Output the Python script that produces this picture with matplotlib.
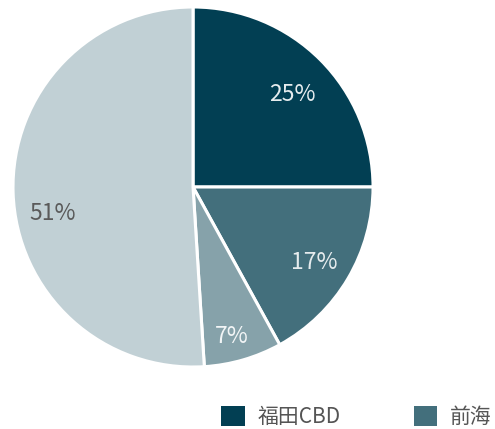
import matplotlib
matplotlib.use("Agg")
import matplotlib.pyplot as plt
from matplotlib.patches import Patch

plt.rcParams['font.family'] = ['Noto Sans CJK SC', 'DejaVu Sans']

labels = ['福田CBD', '前海', '后海', '其他']
values = [25, 17, 7, 51]
colors = ['#023f53', '#436f7c', '#86a2aa', '#c1d0d5']
text_colors = ['#e6ecee', '#e6ecee', '#f2f5f6', '#5a5a5a']

fig = plt.figure(figsize=(4.95, 4.29), dpi=100)
ax = fig.add_axes([0.0263, 0.1445, 0.7273, 0.8392])

wedges, texts, autotexts = ax.pie(values, colors=colors, startangle=90, counterclock=False,
                                  autopct='%d%%', pctdistance=0.78,
                                  wedgeprops=dict(edgecolor='white', linewidth=2.2, clip_on=False))
# small downward nudges so the labels sit like the original
nudge = [-0.035, -0.02, -0.08, -0.12]
for t, c, dy in zip(autotexts, text_colors, nudge):
    x, y = t.get_position()
    t.set_position((x, y + dy))
    t.set_color(c)
    t.set_fontsize(16.5)
    t.set_fontweight('light')
ax.set_xlim(-1.0, 1.0)
ax.set_ylim(-1.0, 1.0)
ax.set_aspect('equal')

# only the first two entries fit in the legend row
handles = [Patch(facecolor=colors[i], edgecolor='none') for i in range(2)]
leg = fig.legend(handles, labels[:2], loc='lower left', bbox_to_anchor=(220 / 495, 0.0),
                 ncol=2, frameon=False, fontsize=15, handlelength=1.15, handleheight=1.15,
                 handletextpad=0.6, columnspacing=3.5, borderpad=0.05, borderaxespad=0)
for t in leg.get_texts():
    t.set_color('#555555')

fig.savefig('out.png', dpi=100)
